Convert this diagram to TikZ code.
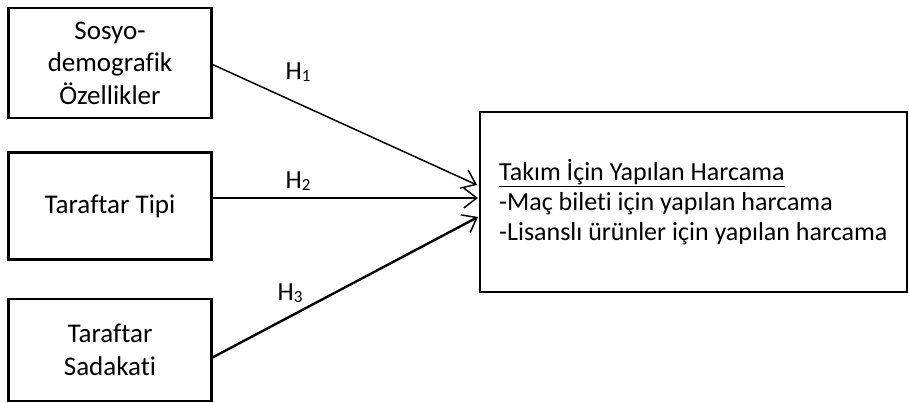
\documentclass[tikz,border=0pt]{standalone}
\usepackage{fontspec}
\setmainfont[Ligatures=NoCommon]{Carlito}
\usetikzlibrary{arrows.meta}
\tikzset{
  factor/.style={draw, line width=2.4pt, minimum width=203pt, align=center,
    inner sep=0pt, font=\fontsize{27}{32.5}\selectfont},
  outcome/.style={draw, line width=2.4pt, minimum width=427pt, minimum height=180pt},
  listing/.style={align=left, inner sep=0pt, anchor=north west,
    font=\fontsize{26}{30}\selectfont},
  path/.style={line width=1.5pt, -{Straight Barb[length=13pt,width=20pt,line width=1.5pt]}},
  hlabel/.style={font=\fontsize{26}{26}\selectfont, inner sep=0pt, anchor=base}
}
\newcommand{\hyp}[1]{H\raisebox{-2pt}{\fontsize{17}{17}\selectfont #1}}
\begin{document}
\begin{tikzpicture}[x=1pt,y=-1pt]
\useasboundingbox (0,0) rectangle (909,403);
% independent variables
\node[factor, minimum height=110pt] (b1) at (110,63) {Sosyo-\\demografik\\Özellikler};
\node[factor, minimum height=107pt] (b2) at (110,206) {Taraftar Tipi};
\node[factor, minimum height=102pt] (b3) at (110,350) {Taraftar\\Sadakati};
% dependent variable
\node[outcome] (out) at (693.5,202) {};
\node[listing] (list) at (499,156) {\rule{0pt}{24pt}\underline{Takım İçin Yapılan Harcama}\\-Maç bileti için yapılan harcama\\-Lisanslı ürünler için yapılan harcama};
% arrow end points on the outcome box
\coordinate (t1) at (477,185);
\coordinate (t2) at (478,198);
\coordinate (t3) at (478,217);
\coordinate (s1) at (211.5,64);
\coordinate (s3) at (211.5,358);
% hypothesised paths
\draw[path] (s1) -- (t1);
\draw[path] (b2.east |- t2) -- (t2);
\draw[path, line width=2.4pt] (s3) -- (t3);
% labels
\node[hlabel] (h1) at (298,80) {\hyp{1}};
\node[hlabel] (h2) at (298,189) {\hyp{2}};
\node[hlabel] (h3) at (290,300) {\hyp{3}};
\end{tikzpicture}
\end{document}
